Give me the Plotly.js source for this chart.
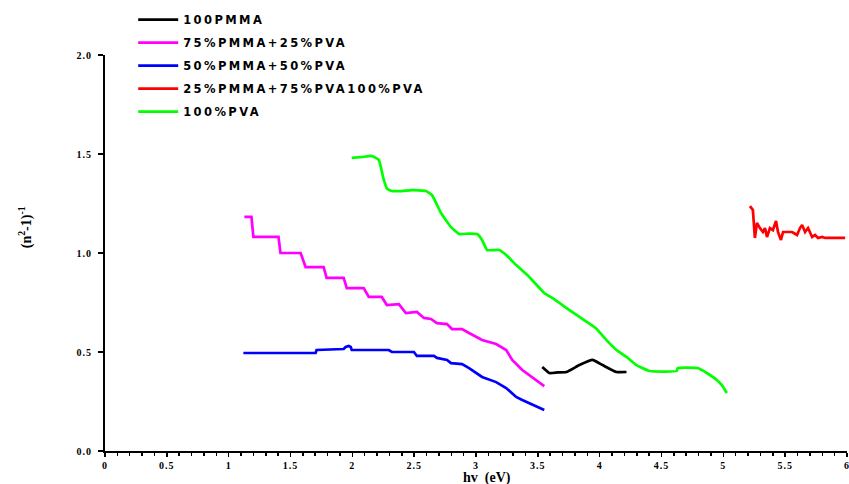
<!DOCTYPE html>
<html>
<head>
<meta charset="utf-8">
<script src="https://cdn.plot.ly/plotly-3.0.1.min.js"></script>
<style>
  html, body { margin: 0; padding: 0; background: #fff; }
  #chart { width: 849px; height: 484px; }
  /* wide, heavy lettering for legend and tick labels */
  #chart .legendtext { letter-spacing: 2.4px; }
  #chart .legend .scrollbox { clip-path: none !important; }
  #chart .xtick text, #chart .ytick text { letter-spacing: 1px; }
</style>
</head>
<body>
<div id="chart"></div>
<script>
// Series names as shown in the legend
const seriesNames = ['100PMMA', '75%PMMA+25%PVA', '50%PMMA+50%PVA', '25%PMMA+75%PVA100%PVA', '100%PVA'];

// 100PMMA
const pmmaX = [3.536, 3.593, 3.66, 3.731, 3.836, 3.942, 4.023, 4.136, 4.217];
const pmmaY = [0.424, 0.394, 0.397, 0.399, 0.434, 0.460, 0.434, 0.399, 0.399];

// 75%PMMA+25%PVA
const blend75X = [1.127, 1.184, 1.200, 1.403, 1.419, 1.582, 1.622, 1.768, 1.792, 1.930, 1.955, 2.092, 2.133, 2.238,
                  2.279, 2.376, 2.433, 2.522, 2.579, 2.636, 2.684, 2.766, 2.806, 2.887, 2.944, 3.049, 3.163, 3.244,
                  3.293, 3.374, 3.552];
const blend75Y = [1.182, 1.182, 1.081, 1.081, 1.000, 1.000, 0.929, 0.929, 0.874, 0.874, 0.823, 0.823, 0.778, 0.778,
                  0.737, 0.742, 0.697, 0.702, 0.672, 0.667, 0.646, 0.641, 0.616, 0.616, 0.596, 0.561, 0.540, 0.510,
                  0.460, 0.409, 0.328];

// 50%PMMA+50%PVA
const blend50X = [1.119, 1.703, 1.711, 1.930, 1.946, 1.971, 1.987, 1.995, 2.295, 2.320, 2.498, 2.522, 2.660, 2.684,
                  2.766, 2.798, 2.887, 2.944, 3.049, 3.163, 3.244, 3.325, 3.374, 3.552];
const blend50Y = [0.495, 0.495, 0.510, 0.515, 0.525, 0.530, 0.525, 0.510, 0.510, 0.500, 0.500, 0.480, 0.480, 0.470,
                  0.460, 0.444, 0.439, 0.419, 0.374, 0.348, 0.318, 0.273, 0.258, 0.207];

// 25%PMMA+75%PVA
const blend25X = [5.215, 5.239, 5.255, 5.272, 5.296, 5.320, 5.337, 5.353, 5.377, 5.401, 5.426, 5.442, 5.466, 5.483,
                  5.515, 5.556, 5.596, 5.620, 5.637, 5.661, 5.685, 5.718, 5.742, 5.766, 5.799, 5.823, 5.985];
const blend25Y = [1.237, 1.217, 1.076, 1.152, 1.126, 1.106, 1.126, 1.081, 1.126, 1.116, 1.162, 1.106, 1.066, 1.106,
                  1.106, 1.106, 1.091, 1.126, 1.141, 1.106, 1.126, 1.081, 1.091, 1.076, 1.081, 1.076, 1.076];

// 100%PVA
const pvaX = [1.995, 2.080, 2.157, 2.214, 2.250, 2.280, 2.320, 2.400, 2.482, 2.595, 2.644, 2.717, 2.798, 2.863, 2.940,
              3.009, 3.049, 3.090, 3.187, 3.244, 3.325, 3.431, 3.552, 3.617, 3.755, 3.877, 3.970, 4.055, 4.136, 4.217,
              4.298, 4.404, 4.623, 4.631, 4.793, 4.866, 4.947, 4.988, 5.028];
const pvaY = [1.480, 1.485, 1.490, 1.470, 1.380, 1.325, 1.313, 1.313, 1.318, 1.313, 1.293, 1.202, 1.131, 1.096, 1.098,
              1.096, 1.066, 1.015, 1.015, 0.990, 0.939, 0.879, 0.798, 0.773, 0.712, 0.660, 0.620, 0.560, 0.510, 0.475,
              0.434, 0.404, 0.404, 0.419, 0.419, 0.394, 0.359, 0.333, 0.293];

// Axis ticks
const xTickVals = [0, 0.5, 1, 1.5, 2, 2.5, 3, 3.5, 4, 4.5, 5, 5.5, 6];
const xTickText = ['0', '0.5', '1', '1.5', '2', '2.5', '3', '3.5', '4', '4.5', '5', '5.5', '6'];
const yTickVals = [0, 0.5, 1, 1.5, 2];
const yTickText = ['0.0', '0.5', '1.0', '1.5', '2.0'];

const colors = ['#000000', '#ff00ff', '#0000ff', '#ff0000', '#00ff00'];
const xs = [pmmaX, blend75X, blend50X, blend25X, pvaX];
const ys = [pmmaY, blend75Y, blend50Y, blend25Y, pvaY];
const shapes = ['spline', 'linear', 'linear', 'linear', 'spline'];

const traces = seriesNames.map((name, i) => ({
  x: xs[i],
  y: ys[i],
  name: name,
  legendgroup: 'g' + i,
  type: 'scatter',
  mode: 'lines',
  line: { color: colors[i], width: 2.7, shape: shapes[i], smoothing: 0.4 }
}));

const serif = 'Liberation Serif, Times New Roman, serif';

const layout = {
  width: 849,
  height: 484,
  margin: { l: 105, r: 2, t: 55, b: 33 },
  paper_bgcolor: '#ffffff',
  plot_bgcolor: '#ffffff',
  showlegend: true,
  legend: {
    x: 0.038, y: 1.126, xanchor: 'left', yanchor: 'top',
    bgcolor: 'rgba(0,0,0,0)',
    font: { family: 'DejaVu Sans, Verdana, sans-serif', size: 11.5, color: '#000', weight: 'bold' },
    itemwidth: 40,
    tracegroupgap: 4,
    traceorder: 'grouped'
  },
  xaxis: {
    range: [0, 6],
    tickvals: xTickVals,
    ticktext: xTickText,
    ticks: 'outside', ticklen: 4, tickwidth: 1.5, tickcolor: '#000',
    ticklabeloverflow: 'allow',
    minor: { dtick: 0.1, ticks: 'outside', ticklen: 3, tickwidth: 1.5, tickcolor: '#000', showgrid: false },
    showline: true, linecolor: '#000', linewidth: 2,
    showgrid: false, zeroline: false,
    tickfont: { family: serif, size: 10, color: '#000', weight: 'bold' }
  },
  yaxis: {
    range: [0, 2],
    tickvals: yTickVals,
    ticktext: yTickText,
    ticks: 'outside', ticklen: 5, tickwidth: 1.5, tickcolor: '#000',
    ticklabelstandoff: 4,
    showline: true, linecolor: '#000', linewidth: 2,
    showgrid: false, zeroline: false,
    tickfont: { family: serif, size: 10, color: '#000', weight: 'bold' }
  },
  annotations: [
    {
      text: 'hv\u00a0 (eV)', xref: 'paper', yref: 'paper',
      x: 0.515, y: 0, xanchor: 'center', yanchor: 'top', yshift: -17,
      showarrow: false,
      font: { family: serif, size: 14, color: '#000', weight: 'bold' }
    },
    {
      text: '(n<sup>2</sup>-1)<sup>-1</sup>', xref: 'paper', yref: 'paper',
      x: 0, y: 0.565, xanchor: 'center', yanchor: 'middle', xshift: -80,
      textangle: -90, showarrow: false,
      font: { family: serif, size: 14, color: '#000', weight: 'bold' }
    }
  ]
};

Plotly.newPlot('chart', traces, layout, { displayModeBar: false, staticPlot: true });
</script>
</body>
</html>
